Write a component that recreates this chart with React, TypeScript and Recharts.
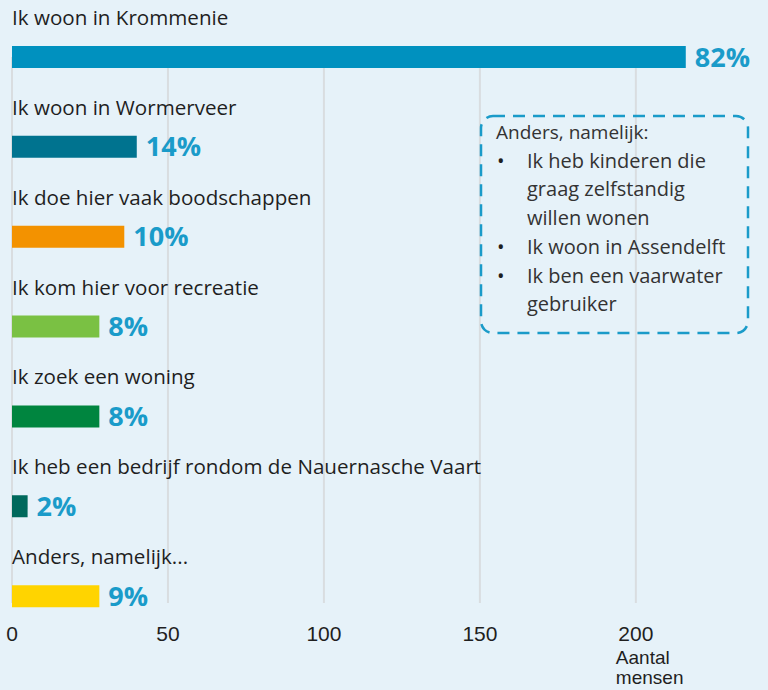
import { Bar, BarChart, CartesianGrid, Cell, LabelList, XAxis, YAxis } from "recharts";

const categories = [
	"Ik woon in Krommenie",
	"Ik woon in Wormerveer",
	"Ik doe hier vaak boodschappen",
	"Ik kom hier voor recreatie",
	"Ik zoek een woning",
	"Ik heb een bedrijf rondom de Nauernasche Vaart",
	"Anders, namelijk...",
];
const counts = [216, 40, 36, 28, 28, 5, 28];
const percents = ["82%", "14%", "10%", "8%", "8%", "2%", "9%"];
const barColors = ["#0091bf", "#00738f", "#f39200", "#7ac143", "#00853f", "#00695c", "#ffd400"];
const xTicks = [0, 50, 100, 150, 200];
const otherAnswers = [
	"Ik heb kinderen die graag zelfstandig willen wonen",
	"Ik woon in Assendelft",
	"Ik ben een vaarwater gebruiker",
];

const chartData = categories.map((name, i) => ({ name, count: counts[i], pct: percents[i] }));

const blue = "#1a9bc9";
const xMax = 243;

function CategoryLabel(props: any) {
	const { x, y, value } = props;
	return (
		<text x={x} y={y - 21} fill="#1f1f1f" fontSize={20.6} fontFamily="'Open Sans', sans-serif">
			{value}
		</text>
	);
}

function AxisTitle(props: any) {
	const { viewBox } = props;
	const x = viewBox.x + viewBox.width * (200 / xMax) - 20;
	return (
		<text x={x} fill="#1f1f1f" fontSize={19} fontFamily="'Liberation Sans', Arial, sans-serif">
			<tspan x={x} y={664}>Aantal</tspan>
			<tspan x={x} y={684}>mensen</tspan>
		</text>
	);
}

export default function App() {
	return (
		<div style={{ position: "relative", width: 768, height: 690, background: "#e6f2f9", overflow: "hidden" }}>
			<style>{`body{margin:0}`}</style>
			<BarChart
				width={768}
				height={690}
				data={chartData}
				layout="vertical"
				margin={{ top: 12, right: -2, bottom: 19, left: 12 }}
			>
				<CartesianGrid horizontal={false} stroke="#d9dde0" strokeWidth={2} y={57} height={546} />
				<XAxis
					type="number"
					domain={[0, xMax]}
					ticks={xTicks}
					axisLine={false}
					tickLine={false}
					height={30}
					interval={0}
					tick={{ fontSize: 21, fill: "#1f1f1f", fontFamily: "'Liberation Sans', Arial, sans-serif", dy: -23 }}
					label={<AxisTitle />}
				/>
				<YAxis type="category" dataKey="name" hide />
				<Bar dataKey="count" barSize={22} isAnimationActive={false}>
					{chartData.map((d, i) => (
						<Cell key={d.name} fill={barColors[i]} />
					))}
					<LabelList dataKey="name" content={<CategoryLabel />} />
					<LabelList
						dataKey="pct"
						position="right"
						offset={9}
						fill={blue}
						fontSize={27}
						fontWeight={700}
						fontFamily="'Open Sans', sans-serif"
					/>
				</Bar>
			</BarChart>
			<svg style={{ position: "absolute", left: 0, top: 0 }} width={768} height={690}>
				<rect
					x={481}
					y={116}
					width={267}
					height={217}
					rx={12}
					fill="none"
					stroke={blue}
					strokeWidth={2.5}
					strokeDasharray="12 8"
				/>
			</svg>
			<div
				style={{
					position: "absolute",
					left: 496,
					top: 118,
					width: 242,
					fontFamily: "'Open Sans', sans-serif",
					fontSize: 20,
					lineHeight: "28.7px",
					color: "#333",
				}}
			>
				<div style={{ fontSize: 19 }}>Anders, namelijk:</div>
				{otherAnswers.map((a) => (
					<div key={a} style={{ display: "flex" }}>
						<span style={{ width: 30, flexShrink: 0, paddingLeft: 1, color: "#1f1f1f" }}>•</span>
						<span>{a}</span>
					</div>
				))}
			</div>
		</div>
	);
}
